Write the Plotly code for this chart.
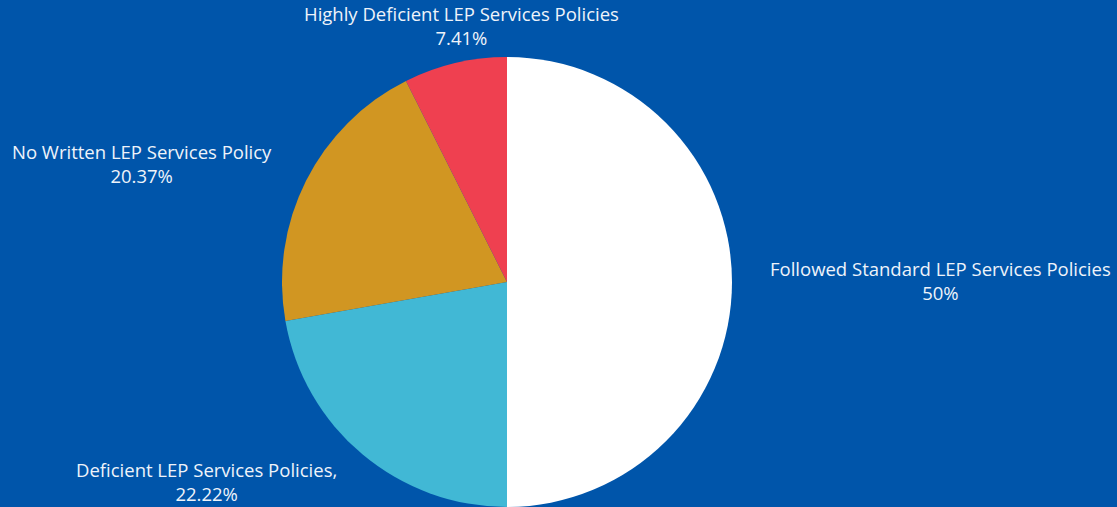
import plotly.graph_objects as go

categories = ["Followed Standard LEP Services Policies", "Deficient LEP Services Policies,",
              "No Written LEP Services Policy", "Highly Deficient LEP Services Policies"]
values = [50.0, 22.22, 20.37, 7.41]
value_labels = ["50%", "22.22%", "20.37%", "7.41%"]
colors = ["#FFFFFF", "#41B8D5", "#D19622", "#EF4050"]

W, H = 1117, 507
BG = "#0055AA"

fig = go.Figure(go.Pie(
    labels=categories, values=values, sort=False, direction="clockwise", rotation=0,
    marker=dict(colors=colors, line=dict(width=0)),
    textinfo="none", hoverinfo="label+percent", showlegend=False,
    domain=dict(x=[(507 - 225) / W, (507 + 225) / W], y=[0, 1 - 57 / H]),
))

# label centre positions in pixels (x, y of first line)
label_pos = [(940, 268), (206, 469), (142, 151), (461, 13)]
for cat, vl, (px, py) in zip(categories, value_labels, label_pos):
    fig.add_annotation(
        x=px / W, y=1 - (py + 12) / H, xref="paper", yref="paper",
        text=f"{cat}<br>{vl}", showarrow=False, xanchor="center", yanchor="middle",
        font=dict(family="Open Sans, Lato, sans-serif", size=18.5, color="#EEF3FA"),
        align="center",
    )

fig.update_layout(
    width=W, height=H, margin=dict(l=0, r=0, t=0, b=0),
    paper_bgcolor=BG, plot_bgcolor=BG,
)
fig.write_html("out.html", config={"displayModeBar": False},
               post_script="document.body.style.margin='0';document.body.style.background='#0055AA';")
